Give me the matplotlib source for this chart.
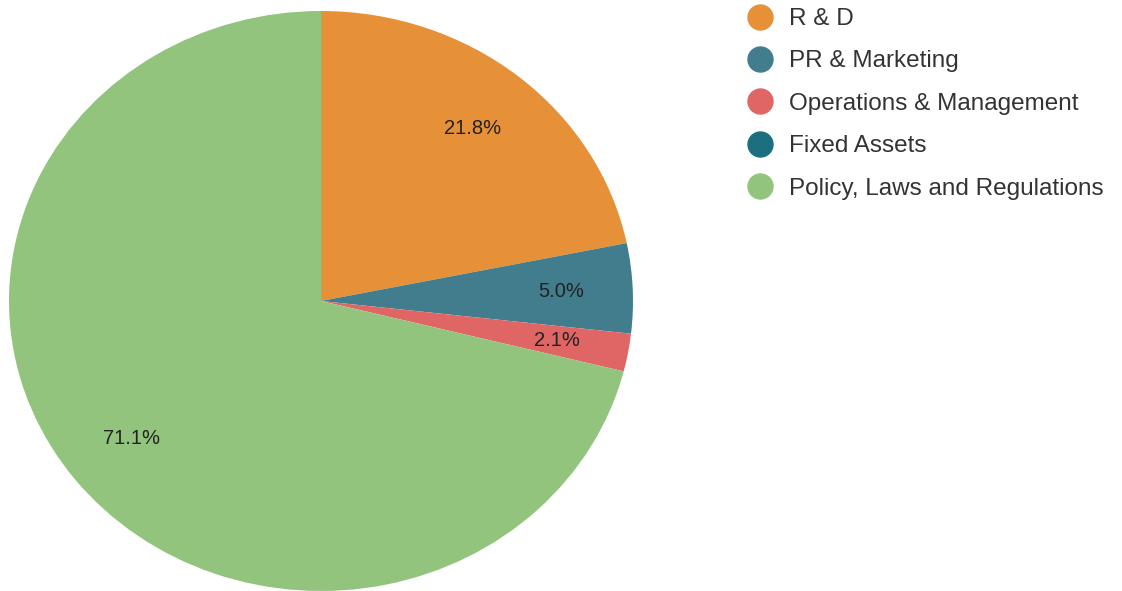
import matplotlib.pyplot as plt
from matplotlib.lines import Line2D

categories = ["R & D", "PR & Marketing", "Operations & Management", "Fixed Assets", "Policy, Laws and Regulations"]
shares = [21.8, 5.0, 2.1, 0.0, 71.1]
colours = ["#e69138", "#427d8e", "#e06666", "#1c6f7f", "#93c47d"]

plt.rcParams['font.family'] = ['Liberation Sans', 'DejaVu Sans']

fig = plt.figure(figsize=(11.22, 5.91), dpi=100)
ax = fig.add_axes([9 / 1122, 0, 624 / 1122, 580 / 591])


def pct_label(p):
    return f"{p:.1f}%" if p > 0.5 else ""


wedges, texts, autotexts = ax.pie(
    shares, colors=colours, startangle=90, counterclock=False,
    autopct=pct_label, pctdistance=0.77, radius=1,
    textprops={'fontsize': 14.5, 'color': '#222222'},
)
ax.set_aspect('auto')
ax.set_xlim(-1, 1)
ax.set_ylim(-1, 1)
ax.axis('off')

handles = [Line2D([0], [0], marker='o', linestyle='', markersize=18,
                  markerfacecolor=c, markeredgecolor=c) for c in colours]
fig.legend(handles, categories, loc='upper left', bbox_to_anchor=(745 / 1122, 1 - 8 / 591),
           frameon=False, fontsize=17.5, labelspacing=0.84, handletextpad=0.62,
           handlelength=1.2, borderaxespad=0, borderpad=0, labelcolor='#333333')

fig.savefig("out.png", dpi=100)
